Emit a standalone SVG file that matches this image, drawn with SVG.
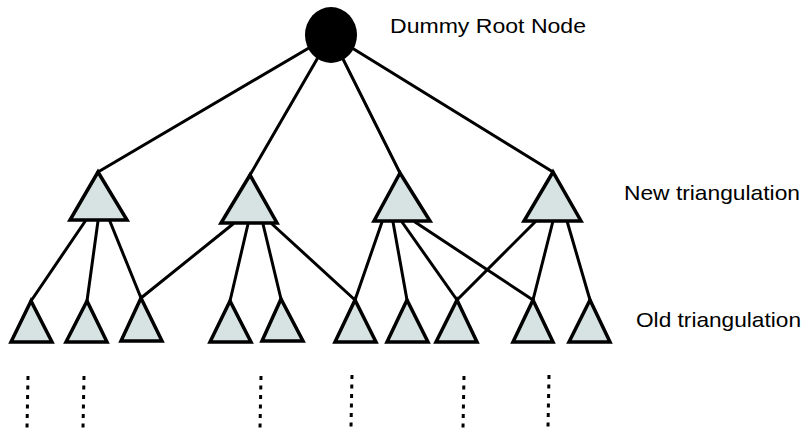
<svg xmlns="http://www.w3.org/2000/svg" width="805" height="433" viewBox="0 0 805 433">
<style>
.e{stroke:#000;stroke-width:3;fill:none;stroke-linecap:round}
.t{fill:#d6e3e2;stroke:#000;stroke-width:3.5;stroke-linejoin:miter}
.d{stroke:#000;stroke-width:3;stroke-dasharray:4 5.5;fill:none}
.lbl{font-family:"Liberation Sans",Arial,sans-serif;font-size:21px;fill:#000}
</style>
<rect width="805" height="433" fill="#fff"/>
<g id="connectors">
<line class="e" x1="331" y1="35" x2="98" y2="172"/>
<line class="e" x1="331" y1="35" x2="250" y2="175"/>
<line class="e" x1="331" y1="35" x2="400" y2="173"/>
<line class="e" x1="331" y1="35" x2="553" y2="172"/>
<line class="e" x1="86" y1="220" x2="31" y2="301"/>
<line class="e" x1="98" y1="221" x2="87" y2="301"/>
<line class="e" x1="109" y1="219" x2="141" y2="298"/>
<line class="e" x1="233" y1="224" x2="141" y2="298"/>
<line class="e" x1="248" y1="224" x2="230" y2="301"/>
<line class="e" x1="263" y1="224" x2="281" y2="299"/>
<line class="e" x1="272" y1="224" x2="355" y2="300"/>
<line class="e" x1="382" y1="222" x2="355" y2="300"/>
<line class="e" x1="393" y1="222" x2="407" y2="300"/>
<line class="e" x1="402" y1="222" x2="457" y2="300"/>
<line class="e" x1="415" y1="222" x2="533" y2="300"/>
<line class="e" x1="536" y1="221" x2="457" y2="300"/>
<line class="e" x1="553" y1="221" x2="533" y2="300"/>
<line class="e" x1="567" y1="221" x2="590" y2="300"/>
<line class="d" x1="28" y1="376" x2="27" y2="428"/>
<line class="d" x1="84" y1="376" x2="83" y2="428"/>
<line class="d" x1="261" y1="376" x2="260" y2="428"/>
<line class="d" x1="352" y1="375" x2="351" y2="427"/>
<line class="d" x1="464" y1="376" x2="463" y2="428"/>
<line class="d" x1="549" y1="375" x2="548" y2="427"/>
</g>
<g id="root"><ellipse cx="331" cy="35" rx="26" ry="28" fill="#000"/><text class="lbl" x="390" y="33" textLength="196" lengthAdjust="spacingAndGlyphs">Dummy Root Node</text></g>
<g id="n1"><polygon class="t" points="98,172 70,220 127,220"/></g>
<g id="n2"><polygon class="t" points="250,175 221,223 277,223"/></g>
<g id="n3"><polygon class="t" points="400,173 374,221 430,221"/></g>
<g id="n4"><polygon class="t" points="553,172 524,221 581,221"/></g>
<g id="newlabel"><text class="lbl" x="624" y="200" textLength="176" lengthAdjust="spacingAndGlyphs">New triangulation</text></g>
<g id="o1"><polygon class="t" points="31,301 11,342 52,342"/></g>
<g id="o2"><polygon class="t" points="87,301 66,342 107,342"/></g>
<g id="o3"><polygon class="t" points="141,298 121,341 162,341"/></g>
<g id="o4"><polygon class="t" points="230,301 210,342 251,342"/></g>
<g id="o5"><polygon class="t" points="281,299 262,341 303,341"/></g>
<g id="o6"><polygon class="t" points="355,300 335,342 376,342"/></g>
<g id="o7"><polygon class="t" points="407,300 387,342 428,342"/></g>
<g id="o8"><polygon class="t" points="457,300 436,342 477,342"/></g>
<g id="o9"><polygon class="t" points="533,300 513,342 553,342"/></g>
<g id="o10"><polygon class="t" points="590,300 569,342 610,342"/></g>
<g id="oldlabel"><text class="lbl" x="636" y="327" textLength="165" lengthAdjust="spacingAndGlyphs">Old triangulation</text></g>
</svg>
